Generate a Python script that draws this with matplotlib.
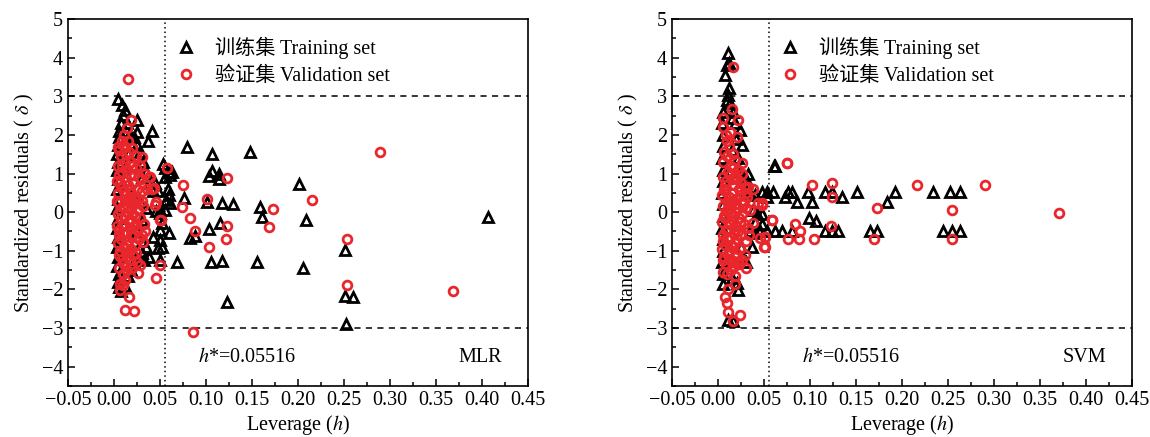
import numpy as np
import matplotlib.pyplot as plt
from matplotlib.ticker import MultipleLocator

plt.rcParams['font.family'] = ['Liberation Serif', 'Noto Sans CJK SC']
plt.rcParams['mathtext.fontset'] = 'stix'

h_star = 0.05516
x_ticks = [-0.05, 0.00, 0.05, 0.10, 0.15, 0.20, 0.25, 0.30, 0.35, 0.40, 0.45]
y_ticks = [-4, -3, -2, -1, 0, 1, 2, 3, 4, 5]

# MLR - training set (leverage, standardized residual)
mlr_train_h = [0.0047, 0.0083, 0.012, 0.010, 0.008, 0.006, 0.005, 0.004, 0.003, 0.004, 0.003, 0.004,
               0.003, 0.004, 0.003, 0.004, 0.003, 0.004, 0.003, 0.004, 0.003, 0.006, 0.0047, 0.006, 0.008,
               0.018, 0.022, 0.0246, 0.0246, 0.014, 0.016, 0.020, 0.025, 0.028, 0.032, 0.037, 0.041,
               0.035, 0.030, 0.038, 0.042, 0.028, 0.035, 0.030, 0.025, 0.030, 0.035, 0.030, 0.028, 0.022,
               0.018, 0.015, 0.012, 0.038, 0.033, 0.020, 0.015, 0.012, 0.010, 0.020,
               0.053, 0.0554, 0.061, 0.061, 0.0554, 0.059, 0.060, 0.057, 0.061, 0.0554, 0.050, 0.046,
               0.050, 0.052, 0.060, 0.050, 0.048, 0.0518, 0.0427, 0.050, 0.050, 0.068, 0.045, 0.048,
               0.0797, 0.1069, 0.148, 0.0627, 0.107, 0.1036, 0.1145, 0.1145, 0.2014, 0.0764, 0.1014,
               0.1177, 0.1297, 0.1587, 0.1605, 0.209, 0.407, 0.115, 0.1036, 0.0826, 0.088, 0.1060,
               0.117, 0.155, 0.205, 0.1225, 0.251, 0.251, 0.260, 0.2518]
mlr_train_d = [2.92, 2.77, 2.65, 2.52, 2.30, 2.10, 1.95, 1.75, 1.50, 1.30, 1.10, 0.85,
               0.60, 0.35, 0.10, -0.15, -0.40, -0.65, -0.90, -1.15, -1.40, -1.60, -1.80, -1.95, -2.05,
               1.95, 1.95, 2.08, 2.39, 2.30, 2.00, 1.80, 1.75, 1.55, 1.30, 1.85, 2.11,
               1.05, 0.90, 0.75, 0.55, 0.30, 0.10, -0.20, -0.50, -0.75, -0.90, -1.05, -1.20, -1.30,
               -1.50, -1.65, -1.90, -1.15, -1.25, -1.00, 1.50, 1.15, 0.70, 0.45,
               1.25, 1.14, 1.05, 0.96, 0.90, 0.59, 0.44, 0.31, 0.23, 0.06, 0.05, 0.02,
               -0.03, -0.29, -0.55, -0.46, -0.94, -0.89, -0.64, -0.72, -1.24, -1.30, 0.75, 0.55,
               1.69, 1.505, 1.565, 1.05, 1.07, 0.935, 0.99, 0.87, 0.73, 0.37, 0.26,
               0.23, 0.21, 0.14, -0.13, -0.20, -0.13, -0.29, -0.44, -0.68, -0.62, -1.28,
               -1.26, -1.28, -1.45, -2.32, -0.98, -2.17, -2.20, -2.90]

# MLR - validation set
mlr_valid_h = [0.0156, 0.019, 0.0138, 0.0047, 0.012, 0.0083, 0.031, 0.0573, 0.038, 0.043, 0.0446,
               0.050, 0.034, 0.032, 0.050, 0.046, 0.028, 0.026, 0.0167, 0.012, 0.022, 0.0065, 0.010,
               0.039, 0.041, 0.046, 0.0508,
               0.004, 0.008, 0.012, 0.016, 0.020, 0.024, 0.027,
               0.005, 0.009, 0.013, 0.017, 0.021, 0.025, 0.029,
               0.004, 0.008, 0.012, 0.015, 0.019, 0.023, 0.030,
               0.006, 0.010, 0.014, 0.018, 0.022, 0.026, 0.032,
               0.004, 0.008, 0.012, 0.016, 0.020, 0.024, 0.028,
               0.005, 0.009, 0.013, 0.017, 0.021, 0.025, 0.030,
               0.004, 0.008, 0.011, 0.015, 0.019, 0.023, 0.027,
               0.005, 0.009, 0.013, 0.017, 0.021, 0.025,
               0.006, 0.010, 0.014, 0.018, 0.007, 0.012,
               0.003, 0.003, 0.003, 0.015, 0.011, 0.020, 0.024, 0.036, 0.033, 0.034,
               0.006, 0.010, 0.014, 0.018, 0.022, 0.007, 0.011, 0.016, 0.020, 0.026,
               0.007, 0.011, 0.015, 0.019, 0.023, 0.006, 0.010, 0.014, 0.018, 0.022,
               0.007, 0.011, 0.016, 0.020, 0.024, 0.009, 0.013, 0.017, 0.028, 0.031,
               0.0747, 0.1014, 0.074, 0.083, 0.0884, 0.1036, 0.1225, 0.1228, 0.1217, 0.1685,
               0.1725, 0.2149, 0.289, 0.253, 0.253, 0.369, 0.0859]
mlr_valid_d = [3.44, 2.39, 2.17, 1.68, 1.68, 1.83, 1.44, 1.15, 0.92, 0.62, 0.19,
               -0.20, -0.50, -0.76, -1.37, -1.71, -1.37, -1.58, -2.20, -2.52, -2.57, -2.01, -1.89,
               0.92, 0.59, 0.27, -0.20,
               1.20, 1.45, 1.30, 1.55, 1.20, 1.15, 0.90,
               0.95, 1.05, 0.80, 0.95, 0.75, 0.60, 0.85,
               0.50, 0.65, 0.45, 0.70, 0.50, 0.35, 0.55,
               0.25, 0.15, 0.30, 0.10, 0.20, 0.05, 0.15,
               -0.05, -0.15, -0.10, -0.25, -0.05, -0.30, -0.15,
               -0.45, -0.35, -0.55, -0.40, -0.60, -0.45, -0.60,
               -0.80, -0.70, -0.90, -0.75, -0.95, -0.85, -0.70,
               -1.10, -1.20, -1.05, -1.25, -1.10, -1.30,
               -1.45, -1.60, -1.50, -1.35, -1.85, -1.75,
               0.30, -0.35, 0.80, 1.85, 2.00, 1.65, 1.45, 0.60, -0.30, 1.00,
               1.60, 1.75, 1.10, 1.30, 0.95, 0.75, 0.55, 0.40, 0.30, 0.35,
               0.05, -0.30, 0.00, -0.20, -0.10, -0.60, -0.55, -0.85, -0.60, -0.35,
               -1.00, -1.35, -1.00, -1.45, -1.05, 1.20, 1.50, 0.60, 1.20, 0.30,
               0.71, 0.35, 0.14, -0.16, -0.48, -0.90, 0.88, -0.35, -0.70, -0.38,
               0.08, 0.31, 1.565, -0.70, -1.89, -2.03, -3.10]

# SVM - training set
svm_train_h = [0.0105, 0.0123, 0.0095, 0.0076, 0.0123, 0.011, 0.0095, 0.013, 0.0149, 0.024, 0.0258,
               0.024, 0.0293, 0.033, 0.0609,
               0.005, 0.004, 0.006, 0.005, 0.004, 0.006, 0.005, 0.004, 0.006, 0.005, 0.004, 0.006,
               0.005, 0.004, 0.006, 0.005,
               0.016, 0.018, 0.020, 0.015, 0.022, 0.020, 0.030, 0.035, 0.040, 0.038, 0.042, 0.040,
               0.035, 0.040, 0.045, 0.0366, 0.0275, 0.030, 0.0203, 0.022, 0.0112, 0.0167, 0.015, 0.025,
               0.062,
               0.0475, 0.0529, 0.0601, 0.0764, 0.0801, 0.0982, 0.1163, 0.1236, 0.1508, 0.1924, 0.234,
               0.2522, 0.263,
               0.053, 0.0728, 0.1345, 0.0855, 0.1018, 0.1834, 0.0993, 0.1065,
               0.0457, 0.0529, 0.062, 0.0692, 0.0801, 0.1163, 0.1236, 0.1308, 0.1652, 0.1725, 0.2449,
               0.254, 0.263, 0.0475, 0.0475]
svm_train_d = [4.13, 3.85, 3.81, 3.55, 3.21, 3.03, 2.90, 2.82, 2.43, 2.13, 1.74,
               1.05, 0.92, 0.99, 1.20,
               2.60, 2.30, 2.00, 1.70, 1.40, 1.10, 0.80, 0.50, 0.20, -0.10, -0.40, -0.70,
               -1.00, -1.30, -1.60, -1.85,
               2.60, 2.30, 1.90, 1.60, 1.40, 1.10, 0.55, 0.50, 0.45, 0.05, -0.05, -0.25,
               -0.50, -0.55, -0.50, -0.89, -1.19, -1.30, -1.84, -2.01, -2.79, -2.83, -1.70, -0.90,
               1.20,
               0.53, 0.53, 0.53, 0.53, 0.53, 0.53, 0.53, 0.53, 0.53, 0.53, 0.53,
               0.53, 0.53,
               0.40, 0.40, 0.40, 0.27, 0.27, 0.27, -0.16, -0.22,
               -0.49, -0.49, -0.49, -0.49, -0.49, -0.49, -0.49, -0.49, -0.49, -0.49, -0.49,
               -0.49, -0.49, -0.05, -0.30]

# SVM - validation set
svm_valid_h = [0.0167, 0.0149, 0.0058, 0.022, 0.0058, 0.013, 0.0203, 0.0101, 0.0167, 0.0258, 0.0747,
               0.0438, 0.0475, 0.0384, 0.0584, 0.0457, 0.051, 0.051, 0.031, 0.0076, 0.0095, 0.0112,
               0.0167, 0.024, 0.011, 0.0185,
               0.006, 0.010, 0.014, 0.018, 0.022, 0.026,
               0.005, 0.009, 0.013, 0.017, 0.021, 0.025, 0.029, 0.033, 0.038,
               0.004, 0.008, 0.012, 0.016, 0.020, 0.024, 0.028, 0.032,
               0.006, 0.010, 0.014, 0.018, 0.022, 0.026, 0.030, 0.035,
               0.004, 0.008, 0.012, 0.016, 0.020, 0.024, 0.028, 0.033,
               0.005, 0.009, 0.013, 0.017, 0.021, 0.025, 0.030,
               0.004, 0.008, 0.012, 0.016, 0.020, 0.024, 0.029,
               0.005, 0.009, 0.013, 0.017, 0.021, 0.026,
               0.006, 0.010, 0.014, 0.019, 0.008, 0.013,
               0.007, 0.011, 0.015, 0.019, 0.023, 0.007, 0.011, 0.015, 0.019, 0.027,
               0.007, 0.011, 0.015, 0.019, 0.023, 0.006, 0.010, 0.014, 0.018, 0.022,
               0.007, 0.011, 0.015, 0.019, 0.023, 0.012, 0.009, 0.016, 0.031, 0.034,
               0.0754, 0.1018, 0.1236, 0.1236, 0.216, 0.2906, 0.1732, 0.254, 0.3707, 0.0475, 0.0584,
               0.0837, 0.0891, 0.1228, 0.0764, 0.088, 0.1043, 0.1696, 0.254, 0.051, 0.050]
svm_valid_d = [3.75, 2.66, 2.43, 2.39, 2.20, 2.08, 1.94, 1.83, 1.51, 1.28, 1.27,
               0.25, 0.19, -0.29, -0.20, -0.68, -0.63, -0.89, -1.45, -2.19, -2.36, -2.58,
               -2.83, -2.66, -1.99, -1.86,
               1.30, 1.45, 1.20, 1.35, 1.10, 1.00,
               0.90, 0.80, 0.95, 0.70, 0.85, 0.75, 0.65, 0.66, 0.60,
               0.45, 0.55, 0.40, 0.50, 0.35, 0.45, 0.30, 0.40,
               0.15, 0.05, 0.20, 0.00, 0.10, -0.05, 0.10, 0.05,
               -0.25, -0.15, -0.30, -0.20, -0.35, -0.25, -0.30, -0.40,
               -0.60, -0.50, -0.65, -0.55, -0.70, -0.60, -0.75,
               -0.95, -0.85, -1.00, -0.90, -1.05, -0.95, -1.10,
               -1.25, -1.35, -1.20, -1.40, -1.30, -1.25,
               -1.55, -1.60, -1.50, -1.65, 0.70, -0.05,
               1.55, 1.05, 0.85, 0.90, 0.60, 0.60, 0.25, 0.30, 0.20, 0.20,
               -0.10, -0.45, -0.10, -0.45, -0.15, -0.75, -0.70, -0.85, -0.80, -0.50,
               -1.15, -1.10, -1.30, -1.15, -1.35, 1.70, 2.00, 1.15, 0.50, -0.60,
               1.27, 0.70, 0.75, 0.39, 0.70, 0.70, 0.10, 0.06, -0.03, 0.23, -0.20,
               -0.31, -0.48, -0.37, -0.69, -0.69, -0.69, -0.69, -0.69, -0.63, -0.89]

panels = [
    ('MLR', mlr_train_h, mlr_train_d, mlr_valid_h, mlr_valid_d, 0.0591),
    ('SVM', svm_train_h, svm_train_d, svm_valid_h, svm_valid_d, 0.5843),
]

fig = plt.figure(figsize=(11.5, 4.37), dpi=100)

for name, th, td, vh, vd, left in panels:
    ax = fig.add_axes([left, 0.1167, 0.4, 0.8398])
    ax.plot(th, td, linestyle='none', marker='^', markersize=7, markerfacecolor='none',
            markeredgecolor='black', markeredgewidth=2.0, label='训练集 Training set', zorder=3)
    ax.plot(vh, vd, linestyle='none', marker='o', markersize=6.3, markerfacecolor='none',
            markeredgecolor='#e8262b', markeredgewidth=2.0, label='验证集 Validation set', zorder=4)
    # warning limits
    ax.axhline(3, color='black', linestyle=(0, (4, 3.5)), linewidth=1.1)
    ax.axhline(-3, color='black', linestyle=(0, (4, 3.5)), linewidth=1.1)
    ax.axvline(h_star, color='black', linestyle=(0, (1, 2)), linewidth=1.1)

    ax.set_xlim(-0.05, 0.45)
    ax.set_ylim(-4.5, 5)
    ax.set_xticks(x_ticks)
    ax.set_xticklabels([f'{t:.2f}'.replace('-', '\u2212') for t in x_ticks])
    ax.set_yticks(y_ticks)
    ax.set_yticklabels([str(t).replace('-', '\u2212') for t in y_ticks])
    ax.xaxis.set_minor_locator(MultipleLocator(0.025))
    ax.yaxis.set_minor_locator(MultipleLocator(0.5))
    ax.tick_params(which='both', direction='in', top=False, right=False, labelsize=14.5, width=1.1)
    ax.tick_params(which='major', length=5)
    ax.tick_params(which='minor', length=3)
    for s in ax.spines.values():
        s.set_linewidth(1.2)

    ax.set_xlabel('Leverage ($h$)', fontsize=14.5, labelpad=2)
    ax.set_ylabel('Standardized residuals ( $\\delta$ )', fontsize=14.5, labelpad=4)

    ax.text(0.091, -3.75, '$h$*=0.05516', fontsize=14.5, va='center', ha='left')
    ax.text(0.398, -3.75, name, fontsize=14.5, va='center', ha='center')

    ax.legend(loc='upper left', bbox_to_anchor=(0.205, 0.99), frameon=False, fontsize=14.5,
              handlelength=1.0, handletextpad=0.9, labelspacing=0.4, borderaxespad=0.3)

fig.savefig('out.png', dpi=100)
